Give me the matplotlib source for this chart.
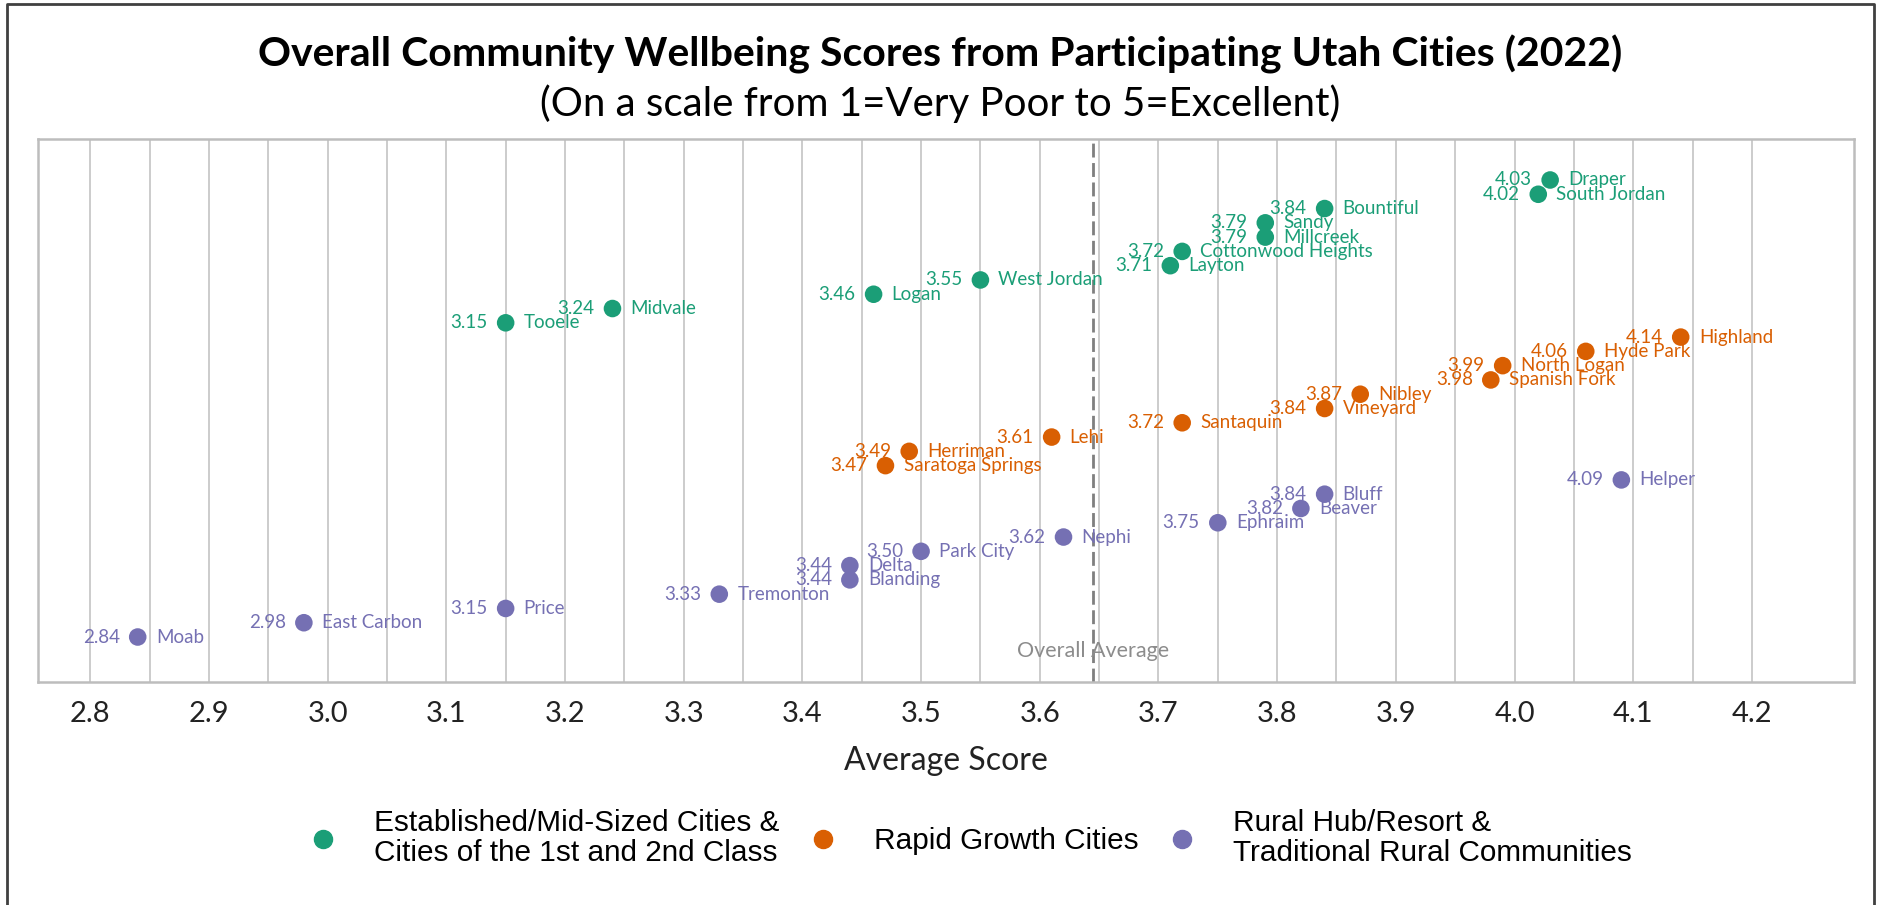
import numpy as np
import matplotlib.pyplot as plt
from matplotlib.lines import Line2D

# city scores by group (top to bottom in the chart)
established_cities = ["Draper", "South Jordan", "Bountiful", "Sandy", "Millcreek",
                      "Cottonwood Heights", "Layton", "West Jordan", "Logan", "Midvale", "Tooele"]
established_scores = [4.03, 4.02, 3.84, 3.79, 3.79, 3.72, 3.71, 3.55, 3.46, 3.24, 3.15]

rapid_cities = ["Highland", "Hyde Park", "North Logan", "Spanish Fork", "Nibley",
                "Vineyard", "Santaquin", "Lehi", "Herriman", "Saratoga Springs"]
rapid_scores = [4.14, 4.06, 3.99, 3.98, 3.87, 3.84, 3.72, 3.61, 3.49, 3.47]

rural_cities = ["Helper", "Bluff", "Beaver", "Ephraim", "Nephi", "Park City", "Delta",
                "Blanding", "Tremonton", "Price", "East Carbon", "Moab"]
rural_scores = [4.09, 3.84, 3.82, 3.75, 3.62, 3.50, 3.44, 3.44, 3.33, 3.15, 2.98, 2.84]

group_names = ["Established/Mid-Sized Cities &\nCities of the 1st and 2nd Class",
               "Rapid Growth Cities",
               "Rural Hub/Resort &\nTraditional Rural Communities"]
overall_average = 3.645
x_ticks = [2.8, 2.9, 3.0, 3.1, 3.2, 3.3, 3.4, 3.5, 3.6, 3.7, 3.8, 3.9, 4.0, 4.1, 4.2]

colors = ["#1b9e77", "#d95f02", "#7570b3"]
font = "Lato"

fig = plt.figure(figsize=(18.81, 9.05), dpi=100)
ax = fig.add_axes([38 / 1881, 1 - 682 / 905, (1854 - 38) / 1881, (682 - 139) / 905])

groups = [(established_cities, established_scores),
          (rapid_cities, rapid_scores),
          (rural_cities, rural_scores)]
n_total = sum(len(g[0]) for g in groups)

row = n_total - 1
for (names, scores), c in zip(groups, colors):
    ys = np.arange(row, row - len(names), -1)
    ax.scatter(scores, ys, s=160, color=c, edgecolors="none", zorder=3)
    for name, sc, y in zip(names, scores, ys):
        ax.annotate(f"{sc:.2f}", (sc, y), xytext=(-13, 0), textcoords="offset points",
                    ha="right", va="center", color=c, fontsize=13.5, family=font, zorder=4)
        ax.annotate(name, (sc, y), xytext=(13, 0), textcoords="offset points",
                    ha="left", va="center", color=c, fontsize=13.5, family=font, zorder=4)
    row -= len(names)

# overall average reference line
ax.axvline(overall_average, color="#7f7f7f", lw=2, ls=(0, (5, 2)), zorder=2)
ax.text(overall_average, -1.0, "Overall Average", ha="center", va="center",
        color="#8c8c8c", fontsize=15.5, family=font, zorder=4)

ax.set_xlim(2.756, 4.286)
ax.set_ylim(-3.15, n_total - 1 + 2.87)
ax.set_xticks(x_ticks)
ax.set_xticklabels([f"{t:.1f}" for t in x_ticks], family=font, fontsize=21)
ax.set_xticks(np.arange(2.85, 4.25, 0.1), minor=True)
ax.set_yticks([])
ax.tick_params(axis="x", which="both", length=0, pad=14, colors="#222222")
ax.grid(axis="x", which="both", color="#c4c4c4", lw=1.2, zorder=0)
ax.set_axisbelow(True)
for s in ax.spines.values():
    s.set_color("#bdbdbd")
    s.set_linewidth(1.8)
ax.set_xlabel("Average Score", family=font, fontsize=23, labelpad=13, color="#222222")

fig.text(0.5, 1 - 54 / 905, "Overall Community Wellbeing Scores from Participating Utah Cities (2022)",
         ha="center", va="center", fontsize=29.5, fontweight="bold", family=font)
fig.text(0.5, 1 - 104 / 905, "(On a scale from 1=Very Poor to 5=Excellent)",
         ha="center", va="center", fontsize=29, family=font)

handles = [Line2D([], [], marker="o", ls="none", color=c, markersize=13) for c in colors]
leg = fig.legend(handles, group_names, loc="center", bbox_to_anchor=(970 / 1881, 1 - 838 / 905),
                 ncol=3, frameon=False, prop={"family": "Liberation Sans", "size": 21.4},
                 handlelength=1.0, handletextpad=1.2, columnspacing=0.98)
for t in leg.get_texts():
    t.set_linespacing(1.05)

# outer frame
fig.add_artist(Line2D([7 / 1881, 7 / 1881, 1874 / 1881, 1874 / 1881],
                      [0, 1 - 4 / 905, 1 - 4 / 905, 0],
                      transform=fig.transFigure, color="#404040", lw=2))

fig.savefig("out.png", dpi=100)
